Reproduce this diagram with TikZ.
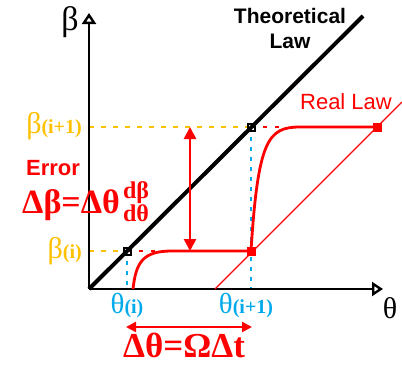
\documentclass[tikz,border=0pt]{standalone}
\usepackage{fontspec}
\setmainfont{Liberation Serif}
\newfontfamily\lawfont{Liberation Sans}
\usepackage{tikz}
\usetikzlibrary{arrows.meta, positioning, calc}
\definecolor{LawRed}{RGB}{255, 0, 0}
\definecolor{LevelYellow}{RGB}{255, 192, 0}
\definecolor{StepBlue}{RGB}{0, 170, 235}

\begin{document}
\begin{tikzpicture}[x=1pt, y=-1pt,
    axisline/.style={line width=2.6pt, -{Triangle[open, length=11pt, width=14pt, line width=2.4pt]}},
    theoryline/.style={line width=4pt},
    reallin/.style={draw=LawRed, line width=1.4pt},
    realcurve/.style={draw=LawRed, line width=2.8pt},
    yellowdash/.style={draw=LevelYellow, line width=2pt, dash pattern=on 5pt off 7pt},
    reddash/.style={draw=LawRed, line width=2pt, dash pattern=on 4pt off 8pt},
    bluedot/.style={draw=StepBlue, line width=2pt, dash pattern=on 4pt off 6pt},
    blacksq/.style={draw=black, line width=2pt, minimum size=7pt, inner sep=0pt},
    redsq/.style={fill=LawRed, minimum size=9pt, inner sep=0pt},
    errarrow/.style={draw=LawRed, line width=2.6pt, {Triangle[length=12pt, width=12pt]}-{Triangle[length=12pt, width=12pt]}},
    steparrow/.style={draw=LawRed, line width=2.4pt, {Triangle[length=10pt, width=10pt]}-{Triangle[length=10pt, width=10pt]}},
    lbl/.style={inner sep=0pt}
  ]
  \useasboundingbox (0,0) rectangle (402,367);

  \coordinate (O) at (89,289);
  \coordinate (yEnd) at (89,13);
  \coordinate (xEnd) at (383,289);
  \coordinate (thEnd) at (363,16);
  \coordinate (rl0) at (215,289);
  \coordinate (rlEnd) at (402,102);
  \coordinate (curveI0) at (133,289);
  \coordinate (flatI) at (172,251);
  \coordinate (flatJ) at (300,127);
  \coordinate (dashEndI) at (164,251);
  \coordinate (dashEndJ) at (284,127);
  \coordinate (errTop) at (190,127);
  \coordinate (errBot) at (190,251);
  \coordinate (stepL) at (126,327);
  \coordinate (stepR) at (252,327);

  \node[blacksq] (sqI) at (127,251) {};
  \node[blacksq] (sqJ) at (251,127) {};

  \draw[yellowdash] (O |- sqJ) -- (sqJ.center);
  \draw[yellowdash] (O |- sqI) -- (sqI.center);
  \draw[reddash] (sqJ.center) -- (dashEndJ);
  \draw[reddash] (sqI.center) -- (dashEndI);
  \draw[bluedot] (sqJ.center) -- (sqJ |- O);
  \draw[bluedot] (sqI.center) -- (sqI |- O);

  \draw[axisline] (O) -- (yEnd);
  \draw[axisline] (O) -- (xEnd);
  \draw[theoryline] (O) -- (thEnd);
  \node[blacksq] at (sqI) {};
  \node[blacksq] at (sqJ) {};

  \node[redsq] (rI) at (251,251) {};
  \node[redsq] (rJ) at (377,127) {};
  \draw[reallin] (rl0) -- (rlEnd);
  \draw[realcurve] (curveI0) .. controls (136,262) and (143,251) .. (flatI) -- (rI.center)
    .. controls (258,140) and (268,127) .. (flatJ) -- (rJ.center);

  \draw[errarrow] (errTop) -- (errBot);
  \draw[steparrow] (stepL) -- (stepR);

  \node[lbl, font=\fontsize{34}{34}\selectfont] (betaAxis) at (70,22) {β};
  \node[lbl, font=\fontsize{30}{30}\selectfont] (thetaAxis) at (390,308) {θ};
  \node[lbl, align=center, font=\lawfont\bfseries\fontsize{21}{25}\selectfont] (theoryLbl) at (290,28) {Theoretical\\Law};
  \node[lbl, text=LawRed, font=\lawfont\fontsize{22}{22}\selectfont] (realLbl) at (346,102) {Real Law};
  \node[lbl, anchor=base east, text=LevelYellow, font=\fontsize{30}{30}\selectfont] (betaJ) at (82,133) {β{\fontsize{20}{20}\selectfont\bfseries(i+1)}};
  \node[lbl, anchor=base east, text=LevelYellow, font=\fontsize{30}{30}\selectfont] (betaI) at (82,258) {β{\fontsize{20}{20}\selectfont\bfseries(i)}};
  \node[lbl, anchor=base, text=StepBlue, font=\fontsize{29}{29}\selectfont] (thetaI) at (127,313) {θ{\fontsize{20}{20}\selectfont\bfseries(i)}};
  \node[lbl, anchor=base, text=StepBlue, font=\fontsize{29}{29}\selectfont] (thetaJ) at (246,313) {θ{\fontsize{20}{20}\selectfont\bfseries(i+1)}};
  \node[lbl, text=LawRed, font=\lawfont\bfseries\fontsize{22}{22}\selectfont] (errLbl) at (53,168) {Error};
  \node[lbl, anchor=base west, text=LawRed, font=\bfseries\fontsize{34}{34}\selectfont] (errEq) at (22,213) {Δβ=Δθ};
  \node[lbl, anchor=base, text=LawRed, font=\bfseries\fontsize{24}{24}\selectfont] (fracNum) at (136,198) {dβ};
  \node[lbl, anchor=base, text=LawRed, font=\bfseries\fontsize{24}{24}\selectfont] (fracDen) at (136,221) {dθ};
  \node[lbl, anchor=base, text=LawRed, font=\bfseries\fontsize{35}{35}\selectfont] (stepEq) at (184,357) {Δθ=ΩΔt};
\end{tikzpicture}
\end{document}
